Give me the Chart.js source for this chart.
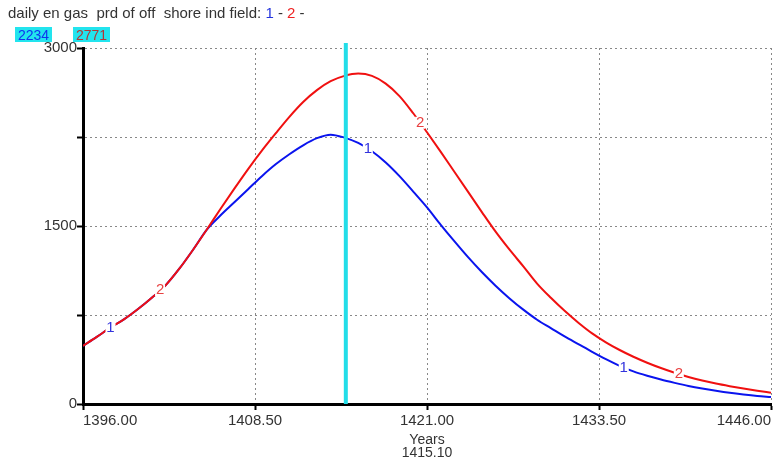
<!DOCTYPE html>
<html>
<head>
<meta charset="utf-8">
<script src="https://cdn.jsdelivr.net/npm/chart.js@4"></script>
<style>
  body { margin: 0; background: #fff; }
  #wrap { position: relative; width: 776px; height: 459px; }
  #head { position: absolute; left: 8px; top: 4px; font: 15px "Liberation Sans", Arial, sans-serif; color: #333; white-space: pre; }
  .val { position: absolute; top: 27px; height: 15px; line-height: 15px; font: 14px "Liberation Sans", Arial, sans-serif; background: #22e4ee; padding: 0 3px; }
</style>
</head>
<body>
<div id="wrap">
  <canvas id="chart" width="776" height="459"></canvas>
  <div id="head">daily en gas  prd of off  shore ind field: <span style="color:#2233dd">1</span> - <span style="color:#ee2222">2</span> -</div>
  <div class="val" style="left:15px;color:#1133ee">2234</div>
  <div class="val" style="left:73px;color:#b03838">2771</div>
</div>
<script>
const years = [1396, 1397, 1398, 1399, 1400, 1401, 1402, 1403, 1404, 1405,
  1406, 1407, 1408, 1409, 1410, 1411, 1412, 1413, 1414, 1415,
  1416, 1417, 1418, 1419, 1420, 1421, 1422, 1423, 1424, 1425,
  1426, 1427, 1428, 1429, 1430, 1431, 1432, 1433, 1434, 1435,
  1436, 1437, 1438, 1439, 1440, 1441, 1442, 1443, 1444, 1445, 1446];

// run 1 (blue)
const run1 = [490, 565, 645, 715, 800, 895, 1000, 1140, 1300, 1470,
  1590, 1700, 1810, 1920, 2020, 2105, 2180, 2240, 2270, 2245,
  2200, 2130, 2035, 1920, 1790, 1657, 1510, 1370, 1235, 1110,
  995, 890, 795, 710, 640, 570, 505, 440, 378, 322,
  275, 238, 206, 178, 152, 130, 111, 94, 80, 68, 59];

// run 2 (red)
const run2 = [490, 565, 645, 715, 800, 895, 1000, 1140, 1300, 1470,
  1645, 1815, 1980, 2135, 2280, 2420, 2545, 2645, 2720, 2765,
  2785, 2765, 2700, 2595, 2450, 2290, 2125, 1955, 1785, 1615,
  1450, 1300, 1160, 1015, 895, 785, 685, 595, 520, 455,
  398, 348, 303, 263, 228, 198, 172, 150, 130, 112, 95];

const yTicks = [0, 750, 1500, 2250, 3000];
const xTicks = [1396, 1408.5, 1421, 1433.5, 1446];
const cursorYear = 1415.10;

// line number markers sitting on the curves
const markYears1 = [1398, 1416.7, 1435.3];
const markYears2 = [1401.6, 1420.5, 1439.3];

const toPoints = (vals) => years.map((y, i) => ({ x: y, y: vals[i] }));

function valueAt(vals, yr) {
  for (let i = 0; i < years.length - 1; i++) {
    if (yr >= years[i] && yr <= years[i + 1]) {
      const t = (yr - years[i]) / (years[i + 1] - years[i]);
      return vals[i] + t * (vals[i + 1] - vals[i]);
    }
  }
  return vals[vals.length - 1];
}

const overlay = {
  id: "overlay",
  afterDatasetsDraw(chart) {
    const ctx = chart.ctx;
    const xs = chart.scales.x, ys = chart.scales.y;
    const area = chart.chartArea;
    ctx.save();
    ctx.font = '15px "Liberation Sans", Arial, sans-serif';
    ctx.textAlign = "center";
    ctx.textBaseline = "middle";
    const marks = [[markYears1, run1, "1", "#3333dd"], [markYears2, run2, "2", "#e84040"]];
    marks.forEach(([list, vals, txt, col]) => {
      list.forEach((yr) => {
        const px = xs.getPixelForValue(yr);
        const py = ys.getPixelForValue(valueAt(vals, yr));
        ctx.fillStyle = "#fff";
        ctx.fillRect(px - 5, py - 6, 10, 12);
        ctx.fillStyle = col;
        ctx.fillText(txt, px, py);
      });
    });
    // cursor
    const cx = xs.getPixelForValue(cursorYear);
    ctx.strokeStyle = "#22dde8";
    ctx.lineWidth = 4;
    ctx.beginPath();
    ctx.moveTo(cx, area.top - 5);
    ctx.lineTo(cx, area.bottom);
    ctx.stroke();
    ctx.restore();
  }
};

new Chart(document.getElementById("chart"), {
  type: "line",
  data: {
    datasets: [
      { label: "1", data: toPoints(run1), borderColor: "#0a14ee", borderWidth: 2, pointRadius: 0, cubicInterpolationMode: "monotone", order: 2 },
      { label: "2", data: toPoints(run2), borderColor: "#f01010", borderWidth: 2, pointRadius: 0, cubicInterpolationMode: "monotone", order: 1 }
    ]
  },
  options: {
    responsive: false,
    animation: false,
    layout: { padding: { top: 48, right: 5, left: 0, bottom: 0 } },
    plugins: { legend: { display: false }, tooltip: { enabled: false } },
    scales: {
      x: {
        type: "linear",
        min: xTicks[0],
        max: xTicks[xTicks.length - 1],
        afterBuildTicks: (s) => { s.ticks = xTicks.map((v) => ({ value: v })); },
        afterFit: (s) => { s.height = 55; },
        ticks: {
          callback: (v) => Number(v).toFixed(2),
          align: "inner",
          maxRotation: 0,
          padding: 2,
          color: "#333",
          font: { family: "Liberation Sans", size: 15 }
        },
        grid: { color: "#888", lineWidth: 1, tickLength: 6, tickColor: "#000", tickWidth: 2 },
        border: { color: "#000", width: 3, dash: [2, 3] },
        title: {
          display: true,
          text: ["Years", "1415.10"],
          color: "#333",
          font: { family: "Liberation Sans", size: 14, lineHeight: 0.9 },
          padding: { top: 2, bottom: 0 }
        }
      },
      y: {
        min: 0,
        max: 3000,
        afterBuildTicks: (s) => { s.ticks = yTicks.map((v) => ({ value: v })); },
        afterFit: (s) => { s.width = 83; },
        ticks: {
          callback: (v) => (v % 1500 === 0 ? String(v) : ""),
          padding: 0,
          color: "#333",
          font: { family: "Liberation Sans", size: 15 }
        },
        grid: { color: "#888", lineWidth: 1, tickLength: 6, tickColor: "#000", tickWidth: 2 },
        border: { color: "#000", width: 3, dash: [2, 3] }
      }
    }
  },
  plugins: [overlay]
});
</script>
</body>
</html>
